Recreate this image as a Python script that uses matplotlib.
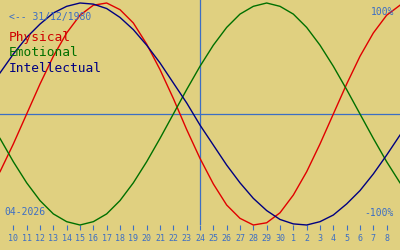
"""Biorhythm chart for someone born 31/12/1980, April 2026 window."""

import matplotlib

matplotlib.use("Agg")
import matplotlib.pyplot as plt

# x = day of April 2026 (days past 30 continue into May)
days = list(range(9, 40))
today = 24

physical = [-0.52, -0.27, 0.00, 0.27, 0.52, 0.73, 0.89, 0.98, 1.00, 0.94,
            0.82, 0.63, 0.40, 0.14, -0.14, -0.40, -0.63, -0.82, -0.94, -1.00,
            -0.98, -0.89, -0.73, -0.52, -0.27, 0.00, 0.27, 0.52, 0.73, 0.89,
            0.98]
emotional = [-0.22, -0.43, -0.62, -0.78, -0.90, -0.97, -1.00, -0.97, -0.90,
             -0.78, -0.62, -0.43, -0.22, 0.00, 0.22, 0.43, 0.62, 0.78, 0.90,
             0.97, 1.00, 0.97, 0.90, 0.78, 0.62, 0.43, 0.22, 0.00, -0.22,
             -0.43, -0.62]
intellectual = [0.37, 0.54, 0.69, 0.81, 0.91, 0.97, 1.00, 0.99, 0.95, 0.87,
                0.76, 0.62, 0.46, 0.28, 0.10, -0.10, -0.28, -0.46, -0.62,
                -0.76, -0.87, -0.95, -0.99, -1.00, -0.97, -0.91, -0.81, -0.69,
                -0.54, -0.37, -0.19]

tick_days = list(range(10, 39))
tick_labels = [str(d) for d in range(10, 31)] + [str(d) for d in range(1, 9)]

BG = "#e0d080"
BLUE = "#3c6ec4"
MONO = "DejaVu Sans Mono"

fig = plt.figure(figsize=(4, 2.5), dpi=100, facecolor=BG)
ax = fig.add_axes([0, 0.1, 1, 0.9], facecolor=BG)
ax.set_xlim(9, 39)
ax.set_ylim(-1, 1.027)

ax.axhline(0, color=BLUE, lw=0.9)
ax.axvline(today, color=BLUE, lw=0.9)

ax.plot(days, physical, color="#e00000", lw=1.0, clip_on=False)
ax.plot(days, emotional, color="#007000", lw=1.0, clip_on=False)
ax.plot(days, intellectual, color="#000080", lw=1.0, clip_on=False)

for side in ax.spines.values():
    side.set_visible(False)
ax.set_yticks([])
ax.set_xticks(tick_days)
ax.set_xticklabels(tick_labels, family=MONO, fontsize=6, color=BLUE)
ax.tick_params(axis="x", direction="out", length=3.6, width=0.8,
               color=BLUE, pad=3)


def px_text(x, y, s, **kw):
    fig.text(x / 400, 1 - y / 250, s, family=MONO, va="center", **kw)


px_text(9, 17, "<-- 31/12/1980", fontsize=7, color=BLUE)
px_text(394, 12, "100%", fontsize=7, color=BLUE, ha="right")
px_text(394, 213, "-100%", fontsize=7, color=BLUE, ha="right")
px_text(4, 212, "04-2026", fontsize=7, color=BLUE)
px_text(9, 38, "Physical", fontsize=9.3, color="#d00000")
px_text(9, 53, "Emotional", fontsize=9.3, color="#007000")
px_text(9, 68, "Intellectual", fontsize=9.3, color="#000080")

fig.savefig("out.png", dpi=100, facecolor=BG)
